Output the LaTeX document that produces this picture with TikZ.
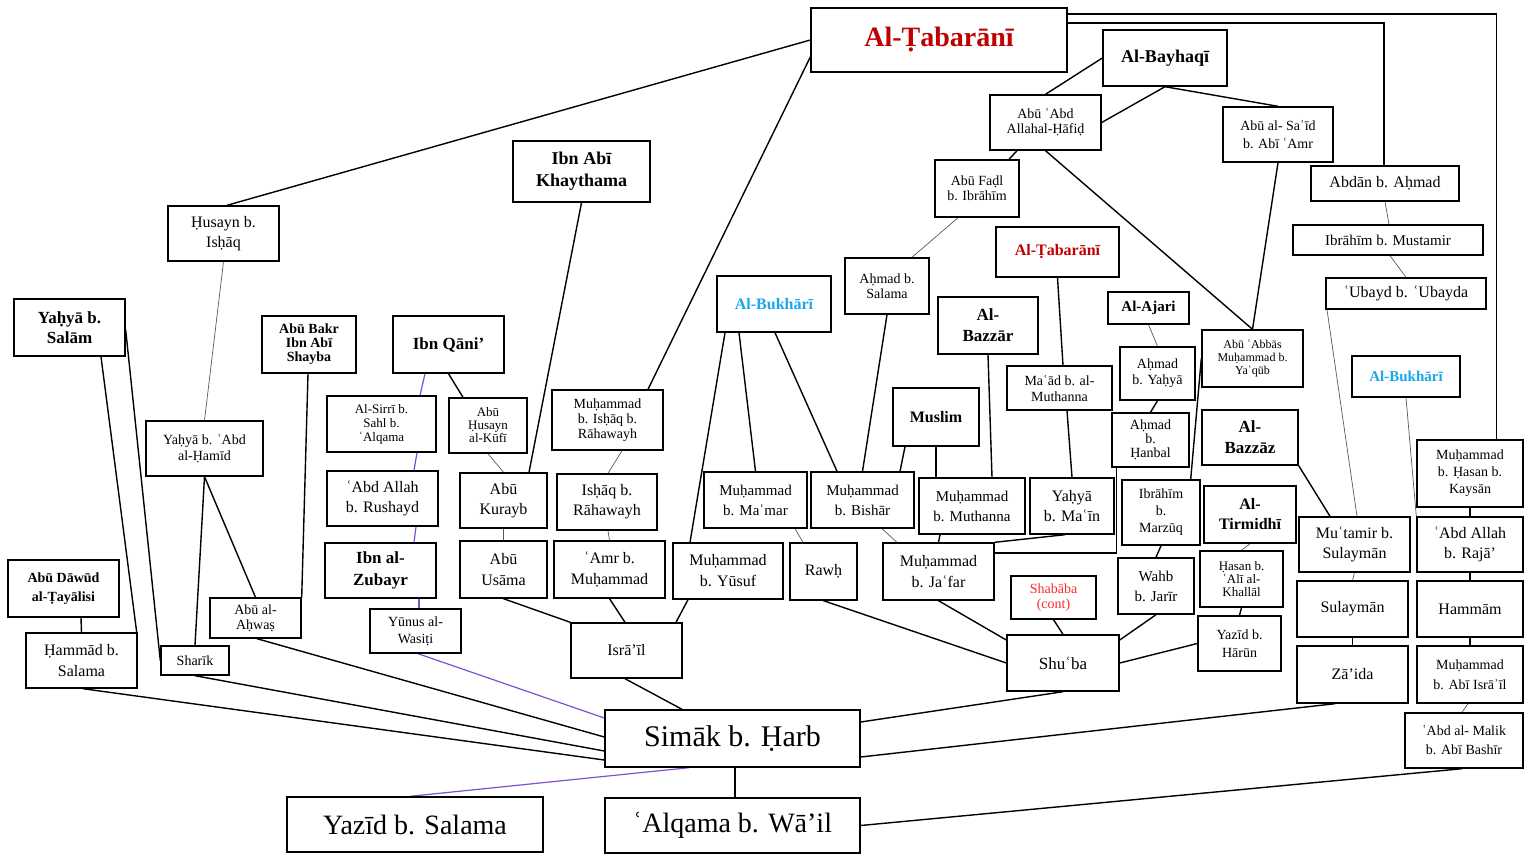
\documentclass[tikz,border=0pt]{standalone}
\usepackage{fontspec}
\setmainfont{Liberation Serif}
\pgfdeclarelayer{edges}
\pgfsetlayers{edges,main}
\definecolor{tabred}{HTML}{C00000}
\definecolor{bukhblue}{HTML}{1AA7EC}
\definecolor{contred}{HTML}{FF2A2A}
\definecolor{chain}{HTML}{7E4FCF}
\newcommand\fz[2]{\fontsize{#1}{#2}\selectfont}
% \bx{name}{x}{y}{width}{height}{options}{text}
\newcommand\bx[7]{\node[box,minimum width=#4,minimum height=#5,#6] (#1) at (#2,#3) {#7};}
\tikzset{
  box/.style={draw, line width=1.4pt, fill=white, inner sep=0pt, align=center},
  link/.style={line width=1.4pt, line cap=round},
  faint/.style={line width=0.7pt, draw=black!65},
  altlink/.style={line width=1.2pt, draw=chain},
}
\begin{document}
\begin{tikzpicture}[x=1pt,y=-1pt]
\useasboundingbox (0,0) rectangle (1525,856);

% ---- top and right side
\bx{tab}{939}{40}{256}{64}{font=\fz{28}{30}\bfseries,text=tabred}{Al-Ṭabarānī}
\bx{bay}{1165}{58}{124}{56}{font=\fz{18}{20}\bfseries}{Al-Bayhaqī}
\bx{abd}{1045.5}{122.5}{111}{55}{font=\fz{14}{15}}{Abū ʿAbd\\Allahal-Ḥāfiḍ}
\bx{said}{1278}{134.5}{110}{55}{font=\fz{14}{18}}{Abū al- Saʿīd\\b. Abī ʿAmr}
\bx{fadl}{977}{188.5}{84}{57}{font=\fz{14}{15}}{Abū Faḍl\\b. Ibrāhīm}
\bx{tabb}{1057.5}{252}{123}{50}{font=\fz{16}{18}\bfseries,text=tabred}{Al-Ṭabarānī}
\bx{salama}{887}{286}{84}{56}{font=\fz{14}{15}}{Aḥmad b.\\Salama}
\bx{abdan}{1385}{183.5}{148}{35}{font=\fz{16}{18}}{Abdān b. Aḥmad}
\bx{mustamir}{1388}{240}{190}{30}{font=\fz{15}{17}}{Ibrāhīm b. Mustamir}
\bx{ubayd}{1406}{293.5}{160}{31}{font=\fz{16}{18}}{ʿUbayd b. ʿUbayda}
\bx{ajari}{1148.5}{308}{81}{32}{font=\fz{15}{17}\bfseries}{Al-Ajari}
\bx{ayahya}{1157.5}{373.5}{75}{53}{font=\fz{14}{16}}{Aḥmad\\b. Yaḥyā}
\bx{hanbal}{1150.5}{440}{77}{54}{font=\fz{14}{14}}{Aḥmad\\b.\\Ḥanbal}
\bx{abbas}{1252.5}{358.5}{101}{57}{font=\fz{12}{13}}{Abū ʿAbbās\\Muḥammad b.\\Yaʿqūb}
\bx{bukhb}{1406}{376.5}{108}{41}{font=\fz{15}{17}\bfseries,text=bukhblue}{Al-Bukhārī}
\bx{bazzaz}{1250}{437.5}{96}{55}{font=\fz{17}{21}\bfseries}{Al-\\Bazzāz}
\bx{kaysan}{1470}{473.5}{106}{67}{font=\fz{14}{17}}{Muḥammad\\b. Ḥasan b.\\Kaysān}
\bx{tirm}{1250}{514.5}{92}{57}{font=\fz{16}{20}\bfseries}{Al-\\Tirmidhī}
\bx{marzuq}{1161}{512.5}{78}{65}{font=\fz{14}{17}}{Ibrāhīm\\b.\\Marzūq}
\bx{mutamir}{1354.5}{544.5}{111}{55}{font=\fz{16}{20}}{Muʿtamir b.\\Sulaymān}
\bx{raja}{1470}{544.5}{106}{55}{font=\fz{16}{20}}{ʿAbd Allah\\b. Rajā’}
\bx{wahb}{1156}{586}{76}{56}{font=\fz{15}{20}}{Wahb\\b. Jarīr}
\bx{hasan}{1241.5}{579}{83}{56}{font=\fz{13}{13}}{Ḥasan b.\\ʿAlī al-\\Khallāl}
\bx{harun}{1239.5}{643.5}{83}{55}{font=\fz{14}{18}}{Yazīd b.\\Hārūn}
\bx{sulayman}{1352.5}{609}{111}{56}{font=\fz{16}{18}}{Sulaymān}
\bx{hammam}{1470}{609}{106}{56}{font=\fz{16}{18}}{Hammām}
\bx{zaida}{1352.5}{674.5}{111}{57}{font=\fz{16}{18}}{Zā’ida}
\bx{israilb}{1470}{674.5}{106}{57}{font=\fz{14}{20}}{Muḥammad\\b. Abī Isrāʾīl}
\bx{malik}{1464}{740.5}{118}{55}{font=\fz{14}{19}}{ʿAbd al- Malik\\b. Abī Bashīr}

% ---- centre
\bx{bukha}{774}{304}{114}{56}{font=\fz{16}{18}\bfseries,text=bukhblue}{Al-Bukhārī}
\bx{bazzar}{988}{325.5}{100}{57}{font=\fz{17}{21}\bfseries}{Al-\\Bazzār}
\bx{maad}{1059.5}{388}{105}{44}{font=\fz{14}{16}}{Maʿād b. al-\\Muthanna}
\bx{muslim}{936}{417}{86}{58}{font=\fz{16}{18}\bfseries}{Muslim}
\bx{mamar}{755.5}{500}{103}{56}{font=\fz{15}{20}}{Muḥammad\\b. Maʿmar}
\bx{bishar}{862.5}{500}{103}{56}{font=\fz{15}{20}}{Muḥammad\\b. Bishār}
\bx{muthanna}{972}{506}{106}{56}{font=\fz{15}{20}}{Muḥammad\\b. Muthanna}
\bx{main}{1072}{506}{84}{56}{font=\fz{16}{20}}{Yaḥyā\\b. Maʿīn}
\bx{yusuf}{728}{571}{110}{56}{font=\fz{16}{21}}{Muḥammad\\b. Yūsuf}
\bx{rawh}{823.5}{571.5}{67}{57}{font=\fz{16}{18}}{Rawḥ}
\bx{jafar}{938.5}{571.5}{111}{57}{font=\fz{16}{21}}{Muḥammad\\b. Jaʿfar}
\bx{shababa}{1053.5}{597.5}{85}{43}{font=\fz{14}{15},text=contred}{Shabāba\\(cont)}
\bx{shuba}{1063}{663}{112}{56}{font=\fz{17}{18}}{Shuʿba}

% ---- left side
\bx{husayn}{223.5}{233.5}{111}{55}{font=\fz{16}{20}}{Ḥusayn b.\\Isḥāq}
\bx{salam}{69.5}{327.5}{111}{57}{font=\fz{17}{20}\bfseries}{Yaḥyā b.\\Salām}
\bx{shayba}{309}{344.5}{94}{57}{font=\fz{14}{14}\bfseries}{Abū Bakr\\Ibn Abī\\Shayba}
\bx{qani}{448.5}{344.5}{111}{57}{font=\fz{17}{18}\bfseries}{Ibn Qāni’}
\bx{sirri}{381.5}{424}{109}{56}{font=\fz{13}{14}}{Al-Sirrī b.\\Sahl b.\\ʿAlqama}
\bx{kufi}{488}{425.5}{78}{55}{font=\fz{13}{13}}{Abū\\Ḥusayn\\al-Kūfī}
\bx{mrah}{607.5}{420}{111}{60}{font=\fz{14}{15}}{Muḥammad\\b. Isḥāq b.\\Rāhawayh}
\bx{khay}{581.5}{171.5}{137}{61}{font=\fz{18}{22}\bfseries}{Ibn Abī\\Khaythama}
\bx{hamid}{204.5}{448.5}{117}{55}{font=\fz{14}{16}}{Yaḥyā b. ʿAbd\\al-Ḥamīd}
\bx{rushayd}{382.5}{498.5}{111}{55}{font=\fz{16}{20}}{ʿAbd Allah\\b. Rushayd}
\bx{kurayb}{503.5}{500.5}{87}{55}{font=\fz{16}{20}}{Abū\\Kurayb}
\bx{ishaq}{607}{502}{100}{56}{font=\fz{16}{20}}{Isḥāq b.\\Rāhawayh}
\bx{zubayr}{380.5}{570.5}{111}{55}{font=\fz{17}{22}\bfseries}{Ibn al-\\Zubayr}
\bx{usama}{503.5}{569.5}{87}{57}{font=\fz{16}{21}}{Abū\\Usāma}
\bx{amr}{609.5}{569.5}{111}{57}{font=\fz{16}{21}}{ʿAmr b.\\Muḥammad}
\bx{yunus}{415.5}{631}{91}{44}{font=\fz{14}{17}}{Yūnus al-\\Wasiṭi}
\bx{israil}{626.5}{650.5}{111}{55}{font=\fz{16}{18}}{Isrā’īl}
\bx{dawud}{63.5}{588.5}{111}{57}{font=\fz{14}{19}\bfseries}{Abū Dāwūd\\al-Ṭayālisi}
\bx{hammad}{81.5}{660.5}{111}{55}{font=\fz{16}{21}}{Ḥammād b.\\Salama}
\bx{sharik}{195}{660.5}{68}{29}{font=\fz{14}{16}}{Sharīk}
\bx{ahwas}{255.5}{618}{91}{40}{font=\fz{14}{15}}{Abū al-\\Aḥwaṣ}

% ---- bottom
\bx{simak}{732.5}{738.5}{255}{57}{font=\fz{30}{32}}{Simāk b. Ḥarb}
\bx{yazid}{415}{824.5}{256}{55}{font=\fz{28}{30}}{Yazīd b. Salama}
\bx{alqama}{732.5}{825.5}{255}{55}{font=\fz{28}{30}}{ʿAlqama b. Wā’il}

\begin{pgfonlayer}{edges}
% from Al-Tabarani
\draw[link] (tab.west) -- ([xshift=3.5]husayn.north);
\draw[link] ([yshift=-17]tab.west) -- ([xshift=40.5]mrah.north);
\draw[link] ([yshift=17]tab.east) -| ([xshift=-1]abdan.north);
\draw[link] ([yshift=26]tab.east) -| ([xshift=26.5]kaysan.north);
% Al-Bayhaqi branch
\draw[link] (bay.west) -- (abd.north);
\draw[link] (bay.south) -- (abd.east);
\draw[link] (bay.south) -- (said.north);
\draw[link] ([xshift=-28.5]abd.south) -- ([xshift=32]fadl.north);
\draw[link] (abd.south) -- (abbas.north);
\draw[link] (said.south) -- (abbas.north);
\draw[faint] ([xshift=-19]fadl.south) -- ([xshift=25]salama.north);
\draw[link] (salama.south) -- (bishar.north);
\draw[link] (abbas.west) -- ([xshift=-10]marzuq.north east);
% second Al-Tabarani, Al-Bazzar, Muslim, Al-Bukhari
\draw[link] (tabb.south) -- ([xshift=3.5]maad.north);
\draw[link] ([xshift=7.5]maad.south) -- (main.north);
\draw[link] (bazzar.south) -- ([xshift=20]muthanna.north);
\draw[link] ([xshift=-31]muslim.south) -- ([xshift=37.5]bishar.north);
\draw[link] (muslim.south) -- ([xshift=-36]muthanna.north);
\draw[link] ([xshift=-49]bukha.south) -- ([xshift=-38]yusuf.north);
\draw[link] ([xshift=-35]bukha.south) -- (mamar.north);
\draw[link] ([xshift=1]bukha.south) -- ([xshift=-25.5]bishar.north);
\draw[faint] ([xshift=39.5]mamar.south) -- ([xshift=-20.5]rawh.north);
\draw[faint] ([xshift=19.5]bishar.south) -- ([xshift=-41.5]jafar.north);
\draw[link] ([xshift=-32]muthanna.south) -- (jafar.north);
\draw[link] ([xshift=-7]main.south) -- (jafar.north east);
\draw[link] ([xshift=5]hanbal.south west) |- ([yshift=18.5]jafar.east);
% into Shu'ba
\draw[link] (rawh.south) -- (shuba.west);
\draw[link] (jafar.south) -- ([yshift=23]shuba.west);
\draw[link] (shababa.south) -- (shuba.north);
\draw[link] (wahb.south) -- ([yshift=23]shuba.east);
\draw[link] (harun.west) -- (shuba.east);
\draw[link] (shuba.south) -- ([yshift=16.5]simak.east);
\draw[link] (marzuq.south) -- (wahb.north);
\draw[faint] (tirm.south) -- (hasan.north);
\draw[link] (hasan.south) -- (harun.north);
\draw[faint] (ajari.south) -- (ayahya.north);
\draw[link] (ayahya.south) -- (hanbal.north);
% right-hand column
\draw[link] (bazzaz.south east) -- ([xshift=-24.5]mutamir.north);
\draw[faint] ([yshift=-4.5]ubayd.west) -- ([xshift=2.5]mutamir.north);
\draw[faint] (bukhb.south) -- (raja.north west);
\draw[faint] (abdan.south) -- ([xshift=1]mustamir.north);
\draw[faint] ([xshift=2]mustamir.south) -- (ubayd.north);
\draw[link] (kaysan.south) -- (raja.north);
\draw[link] (raja.south) -- (hammam.north);
\draw[link] (hammam.south) -- (israilb.north);
\draw[faint] ([xshift=-2]israilb.south) -- ([xshift=-2]malik.north);
\draw[link] ([xshift=-2]malik.south) -- (alqama.east);
\draw[faint] (mutamir.south) -- (sulayman.north);
\draw[link] (sulayman.south) -- (zaida.north);
\draw[link] ([xshift=-17.5]zaida.south) -- ([yshift=-18.5]simak.east);
% Simak below
\draw[link] ([xshift=2.5]simak.south) -- ([xshift=2.5]alqama.north);
\draw[altlink] ([xshift=-43.5]simak.south) -- ([xshift=-5]yazid.north);
% left-hand branches
\draw[faint] (husayn.south) -- (hamid.north);
\draw[link] (hamid.south) -- (sharik.north);
\draw[link] (hamid.south) -- (ahwas.north);
\draw[link] ([xshift=31.5]salam.south) -- ([xshift=-1]hammad.north east);
\draw[link] ([yshift=-2.5]salam.east) -- (sharik.west);
\draw[link] ([xshift=-1]shayba.south) -- (ahwas.north east);
\draw[link] ([xshift=17.5]dawud.south) -- (hammad.north);
\draw[link] ([xshift=1.5]hammad.south) -- ([yshift=-21.5]simak.west);
\draw[link] (sharik.south) -- ([yshift=-12.5]simak.west);
\draw[link] ([xshift=1.5]ahwas.south) -- ([yshift=1.5]simak.west);
% Ibn Qani' chain
\draw[altlink] ([xshift=-23.5]qani.south) -- ([xshift=38.5]sirri.north);
\draw[altlink] ([xshift=35.5]sirri.south) -- ([xshift=31.5]rushayd.north);
\draw[altlink] ([xshift=33.5]rushayd.south) -- ([xshift=33.5]zubayr.north);
\draw[altlink] ([xshift=38.5]zubayr.south) -- ([xshift=3.5]yunus.north);
\draw[altlink] ([xshift=2.5]yunus.south) -- ([yshift=20.5]simak.west);
\draw[link] (qani.south) -- ([xshift=-25]kufi.north);
\draw[faint] (kufi.south) -- (kurayb.north);
\draw[link] (khay.south) -- ([xshift=25.5]kurayb.north);
\draw[faint] (kurayb.south) -- (usama.north);
\draw[link] (usama.south) -- (israil.north west);
\draw[faint] ([xshift=14.5]mrah.south) -- ([xshift=1]ishaq.north);
\draw[faint] ([xshift=1]ishaq.south) -- (amr.north);
\draw[link] (amr.south) -- ([xshift=-1.5]israil.north);
\draw[link] ([xshift=-40]yusuf.south) -- ([xshift=49.5]israil.north);
\draw[link] ([xshift=-1.5]israil.south) -- ([xshift=-50.5]simak.north);
\end{pgfonlayer}
\end{tikzpicture}
\end{document}
